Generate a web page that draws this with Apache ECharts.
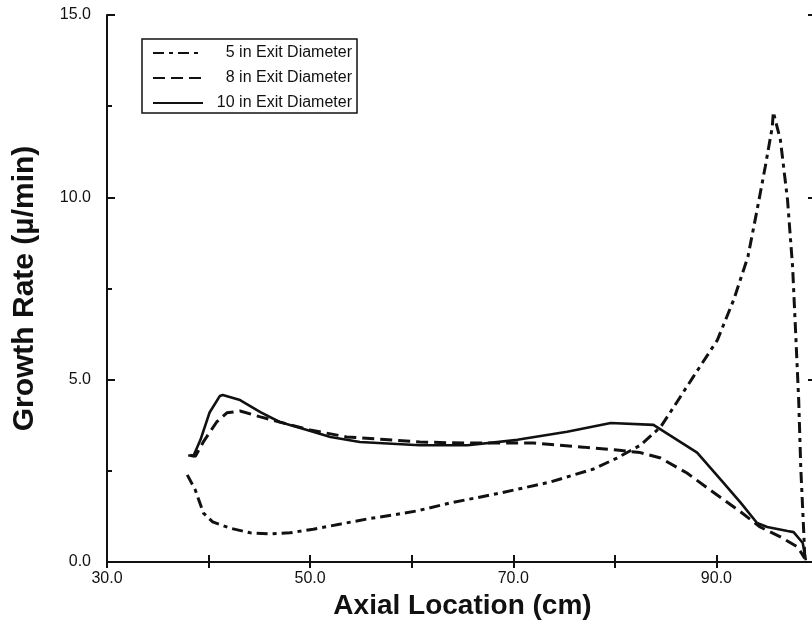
<!DOCTYPE html>
<html>
<head>
<meta charset="utf-8">
<script src="https://cdn.jsdelivr.net/npm/echarts@6/dist/echarts.min.js"></script>
<style>
  html, body { margin: 0; padding: 0; background: #fff; }
  #chart { width: 812px; height: 622px; }
</style>
</head>
<body>
<div id="chart"></div>
<script>
// Growth rate along the axis for three exit diameters
const seriesNames = ['5 in Exit Diameter', '8 in Exit Diameter', '10 in Exit Diameter'];

const dia5X = [37.9, 38.7, 39.5, 40.4, 42.1, 44.1, 46.1, 48.0, 50.3, 53.0, 55.6, 58.2, 60.5, 63.8, 68.7, 73.6, 77.9, 80.2, 82.5, 84.5, 85.8, 87.7, 90.1, 91.7, 93.1, 94.0, 94.8, 95.5, 95.6, 96.3, 97.0, 97.5, 97.8, 98.1, 98.3, 98.6, 98.7];
const dia5Y = [2.39, 1.97, 1.34, 1.10, 0.93, 0.80, 0.77, 0.80, 0.90, 1.04, 1.18, 1.29, 1.40, 1.62, 1.89, 2.19, 2.55, 2.85, 3.20, 3.70, 4.25, 5.07, 6.09, 7.19, 8.37, 9.65, 10.83, 11.93, 12.34, 11.57, 9.93, 8.09, 6.28, 4.44, 2.61, 0.80, 0.10];

const dia8X = [38.2, 38.7, 39.5, 40.8, 41.8, 43.1, 45.1, 47.0, 50.0, 53.6, 60.8, 65.5, 72.0, 76.9, 80.2, 82.5, 84.5, 87.1, 89.4, 92.4, 94.3, 96.3, 98.0, 98.7];
const dia8Y = [2.93, 2.90, 3.30, 3.84, 4.09, 4.14, 3.98, 3.84, 3.62, 3.43, 3.29, 3.26, 3.26, 3.15, 3.07, 3.00, 2.85, 2.44, 1.97, 1.37, 0.96, 0.69, 0.41, 0.10];

const dia10X = [38.0, 38.5, 39.2, 40.1, 41.1, 41.4, 43.1, 45.1, 47.0, 49.7, 52.0, 54.9, 60.8, 65.5, 70.4, 75.3, 79.6, 83.8, 88.1, 90.7, 92.4, 94.0, 95.0, 97.0, 97.6, 98.5, 98.8];
const dia10Y = [2.93, 2.90, 3.35, 4.10, 4.55, 4.58, 4.44, 4.11, 3.84, 3.62, 3.43, 3.29, 3.20, 3.20, 3.35, 3.57, 3.81, 3.76, 3.00, 2.17, 1.62, 1.07, 0.96, 0.85, 0.82, 0.52, 0.05];

const xTickLabels = ['30.0', '50.0', '70.0', '90.0'];
const yTickLabels = ['0.0', '5.0', '10.0', '15.0'];

const pairs = (xs, ys) => xs.map((x, i) => [x, ys[i]]);

const FONT = '"Liberation Sans", Arial, sans-serif';
const INK = '#111';

const chart = echarts.init(document.getElementById('chart'), null, { renderer: 'canvas' });

const baseLine = (name, data, type, width) => ({
  name: name,
  type: 'line',
  data: data,
  showSymbol: false,
  symbol: 'none',
  smooth: false,
  animation: false,
  lineStyle: { color: INK, width: width, type: type, cap: 'butt' },
  itemStyle: { color: INK }
});

chart.setOption({
  backgroundColor: '#fff',
  animation: false,
  grid: { left: 107, top: 15, width: 711, height: 547, containLabel: false, outerBoundsMode: 'none' },
  legend: {
    orient: 'vertical',
    left: 142,
    top: 39,
    itemWidth: 50,
    itemHeight: 14,
    itemGap: 9,
    padding: [6, 5, 2, 10],
    borderColor: INK,
    borderWidth: 1.5,
    borderRadius: 0,
    backgroundColor: '#fff',
    selectedMode: false,
    itemStyle: { opacity: 0 },
    data: seriesNames,
    formatter: n => '{t|' + n + '}',
    textStyle: {
      color: INK,
      fontFamily: FONT,
      fontSize: 16,
      rich: { t: { width: 144, align: 'right', fontSize: 16, fontFamily: FONT, color: INK } }
    }
  },
  xAxis: [{
    type: 'value',
    min: 30,
    max: 100,
    interval: 10,
    position: 'bottom',
    name: 'Axial Location (cm)',
    nameLocation: 'middle',
    nameGap: 26,
    nameTextStyle: { color: INK, fontFamily: FONT, fontSize: 28, fontWeight: 'bold', verticalAlign: 'top' },
    axisLine: { show: true, lineStyle: { color: INK, width: 2 } },
    axisTick: { show: true, inside: true, length: 7, lineStyle: { color: INK, width: 2 } },
    axisLabel: {
      color: INK, fontFamily: FONT, fontSize: 16, margin: 9,
      formatter: v => {
        const s = v.toFixed(1);
        return xTickLabels.indexOf(s) >= 0 ? s : '';
      }
    },
    splitLine: { show: false }
  }, {
    type: 'value',
    min: 30,
    max: 100,
    interval: 10,
    position: 'top',
    axisLine: { show: true, lineStyle: { color: INK, width: 2 } },
    axisTick: { show: true, inside: true, length: 6, lineStyle: { color: INK, width: 2 } },
    axisLabel: { show: false },
    splitLine: { show: false }
  }],
  yAxis: [{
    type: 'value',
    min: 0,
    max: 15,
    interval: 5,
    position: 'left',
    name: 'Growth Rate (\u00b5/min)',
    nameLocation: 'middle',
    nameGap: 67,
    nameRotate: 90,
    nameTextStyle: { color: INK, fontFamily: FONT, fontSize: 30, fontWeight: 'bold' },
    axisLine: { show: true, lineStyle: { color: INK, width: 2 } },
    axisTick: { show: true, inside: true, length: 8, lineStyle: { color: INK, width: 2 } },
    minorTick: { show: true, splitNumber: 2, length: 5, lineStyle: { color: INK, width: 2 } },
    axisLabel: {
      color: INK, fontFamily: FONT, fontSize: 16, margin: 16,
      formatter: v => {
        const s = v.toFixed(1);
        return yTickLabels.indexOf(s) >= 0 ? s : '';
      }
    },
    splitLine: { show: false },
    minorSplitLine: { show: false }
  }, {
    type: 'value',
    min: 0,
    max: 15,
    interval: 5,
    position: 'right',
    axisLine: { show: true, lineStyle: { color: INK, width: 2 } },
    axisTick: { show: true, inside: true, length: 10, lineStyle: { color: INK, width: 2 } },
    axisLabel: { show: false },
    splitLine: { show: false }
  }],
  series: [
    baseLine(seriesNames[0], pairs(dia5X, dia5Y), [11, 5, 4, 5], 3),
    baseLine(seriesNames[1], pairs(dia8X, dia8Y), [12, 6], 3),
    baseLine(seriesNames[2], pairs(dia10X, dia10Y), 'solid', 2.6)
  ]
});
</script>
</body>
</html>
